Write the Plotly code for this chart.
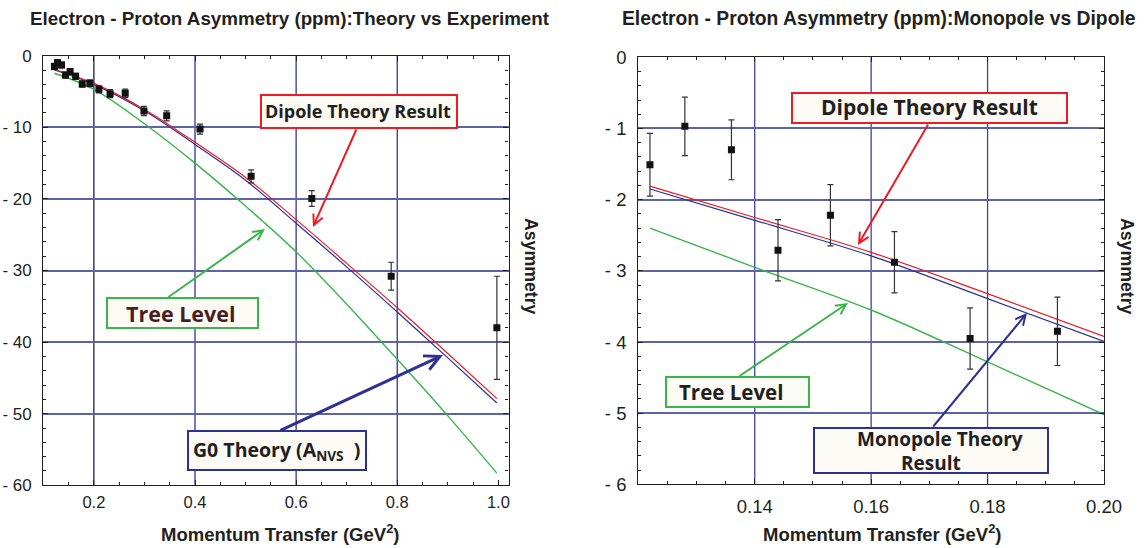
import plotly.graph_objects as go

W, H = 1144, 548

# ---------------- data ----------------
# Experimental points (Q^2 in GeV^2, asymmetry in ppm)
q2_data = [0.122, 0.128, 0.136, 0.144, 0.153, 0.164, 0.177, 0.192, 0.210,
           0.232, 0.262, 0.299, 0.344, 0.410, 0.511, 0.631, 0.788, 0.997]
asym_data = [-1.51, -0.97, -1.30, -2.71, -2.22, -2.88, -3.95, -3.85, -4.70,
             -5.30, -5.26, -7.72, -8.40, -10.25, -16.85, -19.95, -30.8, -38.0]
asym_err = [0.44, 0.41, 0.42, 0.43, 0.43, 0.43, 0.43, 0.48, 0.50,
            0.55, 0.60, 0.65, 0.70, 0.70, 0.90, 1.10, 1.95, 7.2]

# Theory curves, full range (left panel)
q2_theory_full = [0.122, 0.2, 0.3, 0.4, 0.5, 0.6, 0.7, 0.8, 0.9, 0.997]
dipole_full = [-1.9, -3.87, -7.5, -12.1, -17.0, -22.9, -29.0, -35.2, -41.6, -47.9]
g0_full = [-2.0, -4.0, -7.7, -12.4, -17.4, -23.4, -29.5, -35.8, -42.2, -48.5]
tree_full = [-2.45, -4.7, -9.5, -15.0, -21.0, -27.4, -34.7, -42.4, -50.3, -58.3]

# Theory curves, low Q^2 (right panel)
q2_theory_low = [0.122, 0.14, 0.16, 0.18, 0.20]
dipole_low = [-1.81, -2.25, -2.74, -3.32, -3.92]
monopole_low = [-1.85, -2.29, -2.79, -3.39, -3.99]
tree_low = [-2.40, -2.95, -3.55, -4.28, -5.02]

# Axis ticks
x1_ticks = [0.2, 0.4, 0.6, 0.8, 1.0]
x1_ticktext = ["0.2", "0.4", "0.6", "0.8", "1.0"]
y1_ticks = [0, -10, -20, -30, -40, -50, -60]
y1_ticktext = ["0", "- 10", "- 20", "- 30", "- 40", "- 50", "- 60"]
x2_ticks = [0.14, 0.16, 0.18, 0.20]
x2_ticktext = ["0.14", "0.16", "0.18", "0.20"]
y2_ticks = [0, -1, -2, -3, -4, -5, -6]
y2_ticktext = ["0", "- 1", "- 2", "- 3", "- 4", "- 5", "- 6"]
x1_grid = [0.2, 0.4, 0.6, 0.8]
x2_grid = [0.14, 0.16, 0.18]

# ---------------- styling ----------------
RED = "#ed1c24"
BLUE = "#2e3192"
GREEN = "#39b54a"
INK = "#231f20"
AXFONT = "Liberation Sans, Arial, sans-serif"
BOXFONT = "Open Sans, Lato, sans-serif"

fig = go.Figure()

def add_panel(xa, ya, q2t, dip, mono, tree):
    fig.add_trace(go.Scatter(x=q2t, y=tree, mode="lines", line=dict(color=GREEN, width=1.4, shape="spline"),
                             xaxis=xa, yaxis=ya, showlegend=False))
    fig.add_trace(go.Scatter(x=q2t, y=mono, mode="lines", line=dict(color=BLUE, width=1.2, shape="spline"),
                             xaxis=xa, yaxis=ya, showlegend=False))
    fig.add_trace(go.Scatter(x=q2t, y=dip, mode="lines", line=dict(color=RED, width=1.2, shape="spline"),
                             xaxis=xa, yaxis=ya, showlegend=False))
    fig.add_trace(go.Scatter(x=q2_data, y=asym_data, mode="markers",
                             marker=dict(symbol="square", size=7, color="#111111"),
                             error_y=dict(type="data", array=asym_err, color="#333333", thickness=1.2, width=3),
                             xaxis=xa, yaxis=ya, showlegend=False))

add_panel("x", "y", q2_theory_full, dipole_full, g0_full, tree_full)
add_panel("x2", "y2", q2_theory_low, dipole_low, monopole_low, tree_low)

def ax_style(size):
    return dict(showline=True, linecolor=INK, linewidth=1.3, mirror="allticks",
                ticks="inside", ticklen=5, tickwidth=1, tickcolor=INK,
                tickfont=dict(family=AXFONT, size=size, color=INK), zeroline=False,
                tickmode="array", automargin=False)

ygrid = dict(showgrid=True, gridcolor="#5d62ab", gridwidth=1.6)

def minor(d):
    return dict(dtick=d, tick0=0, ticks="inside", ticklen=3, tickcolor=INK, showgrid=False)

fig.update_layout(
    width=W, height=H, margin=dict(l=0, r=0, t=0, b=0, autoexpand=False), autosize=False,
    paper_bgcolor="white", plot_bgcolor="white", showlegend=False,
    xaxis=dict(domain=[43.3 / W, 508.5 / W], range=[0.1, 1.02], anchor="y",
               tickvals=x1_ticks, ticktext=x1_ticktext, showgrid=False, minor=minor(0.05),
               ticklabelstandoff=2, **ax_style(16.5)),
    yaxis=dict(domain=[1 - 485.3 / H, 1 - 55.7 / H], range=[-60, 0], anchor="x",
               tickvals=y1_ticks, ticktext=y1_ticktext, minor=minor(2),
               ticklabelstandoff=7, **ygrid, **ax_style(17)),
    xaxis2=dict(domain=[638.3 / W, 1104 / W], range=[0.12, 0.20], anchor="y2",
                tickvals=x2_ticks, ticktext=x2_ticktext, showgrid=False, minor=minor(0.005),
                ticklabelstandoff=5, **ax_style(18.5)),
    yaxis2=dict(domain=[1 - 484.4 / H, 1 - 57.3 / H], range=[-6, 0], anchor="x2",
                tickvals=y2_ticks, ticktext=y2_ticktext, minor=minor(0.2),
                ticklabelstandoff=7, **ygrid, **ax_style(18.5)),
)

shapes = []
for i, g in enumerate(x1_grid):
    shapes.append(dict(type="line", xref="x", yref="y domain", x0=g, x1=g, y0=0, y1=1, layer="below",
                       line=dict(color="#2e2e55" if i == 0 else "#3d43a0", width=1.4)))
for g in x2_grid:
    shapes.append(dict(type="line", xref="x2", yref="y2 domain", x0=g, x1=g, y0=0, y1=1, layer="below",
                       line=dict(color="#3d43a0", width=1.3)))

def rect(x0, y0, x1, y1, color, bw=2):
    shapes.append(dict(type="rect", xref="paper", yref="paper", x0=x0 / W, x1=x1 / W,
                       y0=1 - y1 / H, y1=1 - y0 / H, layer="above",
                       line=dict(color=color, width=bw), fillcolor="#fbfaf5"))

ann = []

def txt(cx, cy, text, size, angle=0, color=INK, family=AXFONT):
    ann.append(dict(xref="paper", yref="paper", x=cx / W, y=1 - cy / H, xanchor="center", yanchor="middle",
                    text=text, showarrow=False, textangle=angle,
                    font=dict(family=family, size=size, color=color, weight="bold")))

def arrow(tx, ty, hx, hy, color, width=2):
    ann.append(dict(xref="paper", yref="paper", x=hx / W, y=1 - hy / H, axref="pixel", ayref="pixel",
                    ax=tx - hx, ay=ty - hy, text="", showarrow=True, arrowhead=5, arrowsize=1,
                    arrowwidth=width, arrowcolor=color, standoff=0, startstandoff=0))

# titles
txt(290, 19, "Electron - Proton Asymmetry (ppm):Theory vs Experiment", 18.8)
txt(879, 19, "Electron - Proton Asymmetry (ppm):Monopole vs Dipole", 19.3)
txt(280, 533, "Momentum Transfer (GeV<sup>2</sup>)", 18.5)
txt(882, 533, "Momentum Transfer (GeV<sup>2</sup>)", 18.5)
txt(531, 266, "Asymmetry", 17.7, angle=90)
txt(1127, 266, "Asymmetry", 17.7, angle=90)

# left panel callouts
arrow(357, 128, 313, 227, RED, 2)
rect(261, 95, 457, 128, RED)
txt(358, 111, "Dipole Theory Result", 18, family=BOXFONT)
arrow(167, 298, 265, 229, GREEN, 2)
rect(107, 298, 258, 328, GREEN)
txt(181, 313, "Tree Level", 21.5, color="#4b1e1e", family=BOXFONT)
arrow(279, 431, 443, 355, BLUE, 3)
rect(188, 431, 366, 470, BLUE)
txt(276, 450, "G0 Theory (A<sub>NVS</sub> &nbsp;)", 19.5, family=BOXFONT)

# right panel callouts
arrow(929, 123, 858, 245, RED, 2)
rect(792, 93, 1067, 123, RED)
txt(929, 107, "Dipole Theory Result", 21, family=BOXFONT)
arrow(738, 377, 848, 303, GREEN, 2)
rect(666, 377, 809, 407, GREEN)
txt(731, 392, "Tree Level", 20.5, family=BOXFONT)
arrow(932, 428, 1027, 313, BLUE, 2)
rect(814, 428, 1048, 473, BLUE)
txt(940, 438.5, "Monopole Theory", 19, family=BOXFONT)
txt(931, 463, "Result", 19, family=BOXFONT)

fig.update_layout(shapes=shapes, annotations=ann)

post = ("document.documentElement.style.margin='0';document.body.style.margin='0';"
        "document.body.style.padding='0';document.documentElement.style.overflow='hidden';"
        "document.body.style.overflow='hidden';")
fig.write_html("out.html", post_script=post, config={"displayModeBar": False})
